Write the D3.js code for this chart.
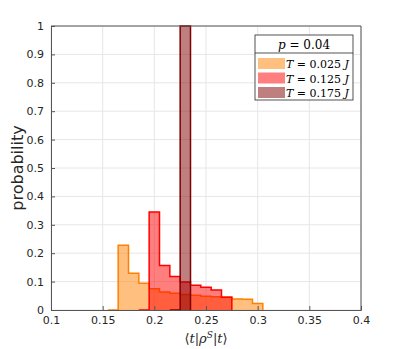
<!DOCTYPE html>
<html>
<head>
<meta charset="utf-8">
<script src="https://cdn.jsdelivr.net/npm/d3@7"></script>
<style>
  body { margin: 0; background: #fff; }
</style>
</head>
<body>
<div id="chart"></div>
<script>
// bin width 0.01, first edge of each series, one value per bin (first bin is empty)
const binWidth = 0.01
const orangeStart = 0.155
const orangeVals = [0, 0.228, 0.129, 0.094, 0.075, 0.063, 0.059, 0.055, 0.052, 0.048, 0.047, 0.046, 0.039, 0.038, 0.023]
const redStart = 0.185
const redVals = [0, 0.345, 0.157, 0.118, 0.099, 0.087, 0.080, 0.070, 0.045]
const darkStart = 0.215
const darkVals = [0, 1.0]

const xTicks = [0.1, 0.15, 0.2, 0.25, 0.3, 0.35, 0.4]
const yTicks = d3.range(0, 11).map(d => d / 10)
const seriesLabels = ['0.025', '0.125', '0.175']

const margin = { top: 26, left: 51, right: 38, bottom: 39 }
const width = 399 - margin.left - margin.right
const height = 349 - margin.top - margin.bottom

const svg = d3.select('#chart')
  .append('svg')
  .attr('width', 399)
  .attr('height', 349)
  .style('font-family', 'DejaVu Sans, sans-serif')

const g = svg.append('g')
  .attr('transform', 'translate(' + margin.left + ',' + margin.top + ')')

const x = d3.scaleLinear().domain([0.1, 0.4]).range([0, width])
const y = d3.scaleLinear().domain([0, 1]).range([height, 0])

// grid
g.append('g').selectAll('line').data(xTicks).enter().append('line')
  .attr('x1', d => x(d)).attr('x2', d => x(d))
  .attr('y1', 0).attr('y2', height)
  .attr('stroke', '#e6e6e6')
g.append('g').selectAll('line').data(yTicks).enter().append('line')
  .attr('y1', d => y(d)).attr('y2', d => y(d))
  .attr('x1', 0).attr('x2', width)
  .attr('stroke', '#e6e6e6')

const series = [
  { start: orangeStart, vals: orangeVals, color: '#ff8000' },
  { start: redStart, vals: redVals, color: '#ff0000' },
  { start: darkStart, vals: darkVals, color: '#800000' }
]

const area = d3.area().curve(d3.curveStepAfter)
  .x(d => x(d.x0)).y0(y(0)).y1(d => y(d.v))
const line = d3.line().curve(d3.curveStepAfter)
  .x(d => x(d.x0)).y(d => y(d.v))

series.forEach(s => {
  const pts = s.vals.map((v, i) => ({ x0: s.start + i * binWidth, v: v }))
  pts.push({ x0: s.start + s.vals.length * binWidth, v: 0 })
  g.append('path').datum(pts)
    .attr('d', area)
    .attr('fill', s.color)
    .attr('fill-opacity', 0.5)
  g.append('path').datum(pts)
    .attr('d', line)
    .attr('fill', 'none')
    .attr('stroke', s.color)
    .attr('stroke-width', 1.5)
})

// axes
const xAxis = g.append('g')
  .attr('transform', 'translate(0,' + height + ')')
  .call(d3.axisBottom(x).tickValues(xTicks).tickSize(-4).tickPadding(6)
    .tickFormat(d => d3.format('~g')(d)))
const yAxis = g.append('g')
  .call(d3.axisLeft(y).tickValues(yTicks).tickSize(-4).tickPadding(7)
    .tickFormat(d => d3.format('~g')(d)))
;[xAxis, yAxis].forEach(a => {
  a.selectAll('path').attr('stroke', '#555')
  a.selectAll('line').attr('stroke', '#555')
  a.selectAll('text').attr('fill', '#262626').style('font-size', '11px')
    .style('font-family', 'DejaVu Sans, sans-serif')
})
// top and right box lines
g.append('line').attr('x1', 0).attr('x2', width).attr('y1', 0).attr('y2', 0).attr('stroke', '#555')
g.append('line').attr('x1', width).attr('x2', width).attr('y1', 0).attr('y2', height).attr('stroke', '#555')

// axis labels
svg.append('text')
  .attr('transform', 'translate(23,' + (margin.top + height / 2) + ') rotate(-90)')
  .attr('text-anchor', 'middle')
  .attr('fill', '#262626')
  .style('font-size', '16px')
  .text('probability')

const xl = svg.append('text')
  .attr('x', margin.left + width / 2)
  .attr('y', 343)
  .attr('text-anchor', 'middle')
  .attr('fill', '#262626')
  .style('font-family', 'DejaVu Serif, serif')
  .style('font-size', '13px')
xl.append('tspan').text('⟨')
xl.append('tspan').style('font-style', 'italic').text('t')
xl.append('tspan').text('|')
xl.append('tspan').style('font-style', 'italic').text('ρ')
xl.append('tspan').style('font-style', 'italic').style('font-size', '9px').attr('dy', -5).text('S')
xl.append('tspan').attr('dy', 5).text('|')
xl.append('tspan').style('font-style', 'italic').text('t')
xl.append('tspan').text('⟩')

// legend
const lg = svg.append('g').attr('transform', 'translate(255,35)')
lg.append('rect').attr('width', 98).attr('height', 65)
  .attr('fill', '#fff').attr('stroke', '#262626').attr('stroke-width', 0.8)
lg.append('line').attr('x1', 0).attr('x2', 98).attr('y1', 18).attr('y2', 18)
  .attr('stroke', '#262626').attr('stroke-width', 0.8)
const lt = lg.append('text').attr('x', 49).attr('y', 14).attr('text-anchor', 'middle')
  .style('font-family', 'DejaVu Serif, serif').style('font-size', '12px').attr('fill', '#000')
lt.append('tspan').style('font-style', 'italic').text('p')
lt.append('tspan').text(' = 0.04')

series.forEach((s, i) => {
  const row = lg.append('g').attr('transform', 'translate(0,' + (23 + i * 14.5) + ')')
  row.append('rect').attr('x', 3).attr('width', 27).attr('height', 11)
    .attr('fill', s.color).attr('fill-opacity', 0.5)
  const t = row.append('text').attr('x', 31).attr('y', 10)
    .style('font-family', 'DejaVu Serif, serif').style('font-size', '11px').attr('fill', '#000')
  t.append('tspan').style('font-style', 'italic').text('T')
  t.append('tspan').text(' = ' + seriesLabels[i] + ' ')
  t.append('tspan').style('font-style', 'italic').text('J')
})
</script>
</body>
</html>
